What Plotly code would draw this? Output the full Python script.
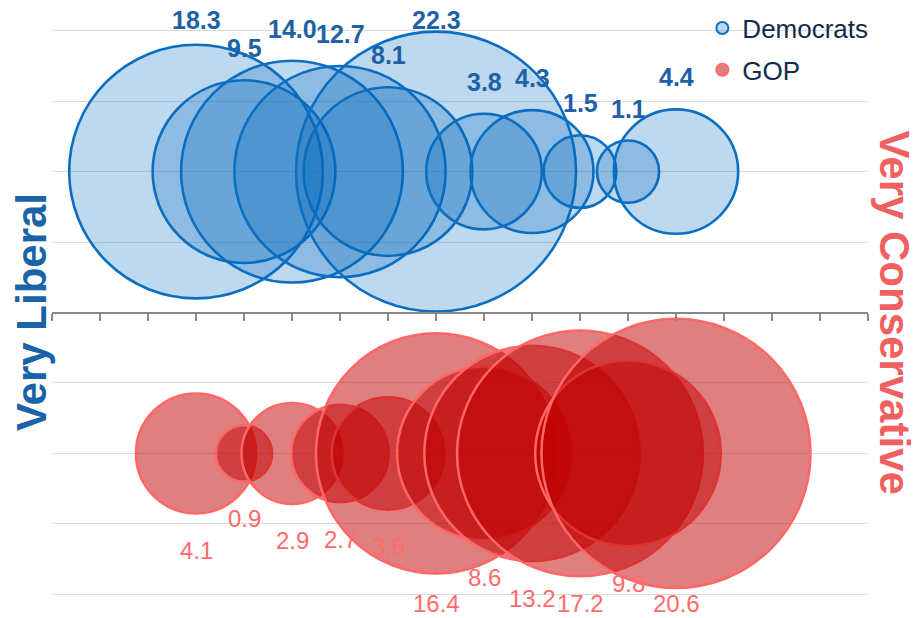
import plotly.graph_objects as go

# ---- data ----
positions = [1, 2, 3, 4, 5, 6, 7, 8, 9, 10, 11]
dem_values = [18.3, 9.5, 14.0, 12.7, 8.1, 22.3, 3.8, 4.3, 1.5, 1.1, 4.4]
gop_values = [4.1, 0.9, 2.9, 2.7, 3.6, 16.4, 8.6, 13.2, 17.2, 9.8, 20.6]
dem_row = 1
gop_row = -1
series_names = ["Democrats", "GOP"]

# ---- style ----
SIZEREF = 0.000569
FONT = "Liberation Sans, Arial, sans-serif"
DEM_FILL = "rgba(5,105,190,0.26)"
DEM_LINE = "#0a6fc2"
DEM_TEXT = "#1d61a6"
GOP_FILL = "rgba(192,0,0,0.5)"
GOP_LINE = "#ff6666"
GOP_TEXT = "#ff6b6b"

Y_RANGE = [-2.012, 2.012]
PX_PER_Y = 567 / (Y_RANGE[1] - Y_RANGE[0])


def radius(v):
    return (v / 2.0 / SIZEREF) ** 0.5


fig = go.Figure()
fig.add_trace(go.Scatter(
    x=positions, y=[dem_row] * len(positions), mode="markers",
    name=series_names[0], legendgroup="d",
    marker=dict(size=dem_values, sizemode="area", sizeref=SIZEREF, opacity=1,
                color=DEM_FILL, line=dict(color=DEM_LINE, width=2.6)),
    hoverinfo="skip",
))
fig.add_trace(go.Scatter(
    x=positions, y=[gop_row] * len(positions), mode="markers",
    name=series_names[1], legendgroup="g",
    marker=dict(size=gop_values, sizemode="area", sizeref=SIZEREF, opacity=1,
                color=GOP_FILL, line=dict(color=GOP_LINE, width=2.5)),
    hoverinfo="skip",
))

annotations = []
for x, v in zip(positions, dem_values):
    annotations.append(dict(
        x=x, y=dem_row, xref="x", yref="y", text=f"{v:.1f}", showarrow=False,
        yshift=min(radius(v) + 32, PX_PER_Y * 1 + 11),
        font=dict(family=FONT, size=25, color=DEM_TEXT, weight="bold"),
    ))
for x, v in zip(positions, gop_values):
    annotations.append(dict(
        x=x, y=gop_row, xref="x", yref="y", text=f"{v:.1f}", showarrow=False,
        yshift=-min(radius(v) + 37, PX_PER_Y * 1 + 9),
        font=dict(family=FONT, size=24, color=GOP_TEXT),
    ))
annotations.append(dict(
    x=-0.025, y=0.5, xref="paper", yref="paper", text="Very Liberal",
    textangle=-90, showarrow=False, xanchor="center", yanchor="middle",
    font=dict(family=FONT, size=42, color="#1a63a8", weight="bold"),
))
annotations.append(dict(
    x=1.033, y=0.5, xref="paper", yref="paper", text="Very Conservative",
    textangle=90, showarrow=False, xanchor="center", yanchor="middle",
    font=dict(family=FONT, size=42, color="#f06060", weight="bold"),
))

fig.update_layout(
    width=917, height=618,
    margin=dict(l=52, r=49, t=29, b=22, autoexpand=False),
    plot_bgcolor="white", paper_bgcolor="white",
    font=dict(family=FONT),
    showlegend=True,
    legend=dict(x=0.797, y=1.043, xanchor="left", yanchor="top",
                bgcolor="rgba(0,0,0,0)", itemsizing="constant",
                tracegroupgap=5, traceorder="grouped",
                font=dict(family=FONT, size=26, color="#102a4c")),
    annotations=annotations,
    xaxis=dict(range=[-2, 15], tick0=-2, dtick=1, ticks="outside", ticklen=7,
               tickwidth=2, tickcolor="#888888", showline=True,
               linecolor="#888888", linewidth=2, showticklabels=False,
               showgrid=False, zeroline=False, anchor="free", position=0.5),
    yaxis=dict(range=Y_RANGE, tick0=0, dtick=0.5, showgrid=True,
               gridcolor="#dcdcdc", gridwidth=1, showticklabels=False,
               zeroline=False, showline=False, ticks=""),
)

fig.write_html("out.html", config={"displayModeBar": False},
               post_script="document.body.style.margin='0';document.body.style.padding='0';")
